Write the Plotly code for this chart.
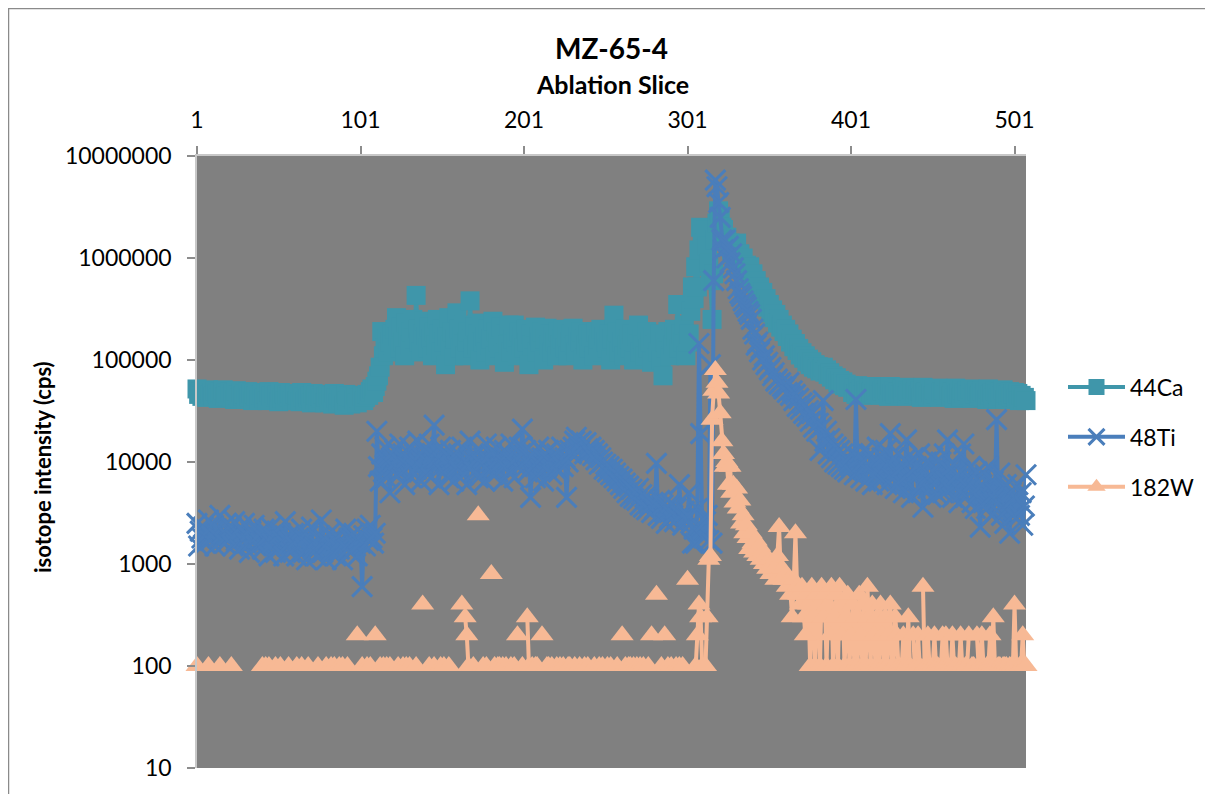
import plotly.graph_objects as go

# ---------------- data ----------------
slice_ticks = [1, 101, 201, 301, 401, 501]
y_ticks = [10, 100, 1000, 10000, 100000, 1000000, 10000000]
y_tick_labels = ["10", "100", "1000", "10000", "100000", "1000000", "10000000"]

# 44Ca intensity, in thousands of cps (slices 1..508)
ca44_kcps = [
    52,46,49,44,50,47,43,51,45,48,44,50,46,42,49,45,51,43,47,44,
    49,43,47,41,50,45,42,48,44,46,41,49,43,47,40,46,44,48,41,45,
    47,42,46,40,49,44,41,47,43,45,39,48,42,46,40,45,43,47,40,44,
    46,40,45,39,48,43,40,46,42,44,38,47,41,45,39,44,42,46,38,43,
    45,39,44,37,47,42,38,45,41,43,36,46,40,44,37,43,41,45,38,42,
    41,44,40,43,46,45,49,52,48,55,62,70,85,190,110,130,160,120,150,180,
    140,200,260,170,130,210,150,110,230,170,140,190,250,160,430,200,150,120,180,240,
    170,130,210,160,110,190,140,250,180,120,200,150,90,170,260,140,190,110,160,290,
    200,130,170,220,110,150,190,380,160,130,210,140,180,100,230,150,170,120,200,140,
    160,240,110,190,150,130,210,170,95,180,140,220,120,160,220,150,110,190,140,170,
    130,200,150,90,180,140,160,210,120,170,150,190,100,160,205,140,180,120,170,150,
    110,190,140,160,200,130,170,110,150,180,205,140,120,170,150,190,100,160,140,180,
    130,170,150,110,190,140,160,200,120,170,150,130,180,100,160,275,140,190,120,170,
    150,110,200,140,160,130,180,100,150,170,220,120,160,140,110,190,130,150,95,170,
    140,160,120,180,100,70,150,130,190,110,160,140,200,170,350,130,180,150,220,110,
    150,180,300,520,400,820,520,1200,2000,1700,1400,1900,1300,900,600,250,700,1500,2200,2900,
    2500,2000,1900,1500,1600,1300,1400,1200,1300,1100,1400,1000,1100,900,1000,800,850,700,820,650,
    700,560,600,480,520,430,460,390,400,330,350,290,310,260,280,230,250,210,220,190,
    200,170,180,150,160,135,145,124,130,112,118,104,110,96,102,90,96,85,90,82,
    86,78,82,85,76,80,72,75,68,70,64,67,60,63,58,61,56,58,54,56,
    55,48,53,46,56,49,52,45,54,50,47,53,49,55,46,51,48,54,45,50,
    53,47,51,44,55,48,50,46,53,49,45,52,47,54,44,50,48,52,46,49,
    52,45,50,43,54,47,49,44,52,48,44,51,46,53,43,49,47,51,45,48,
    51,44,49,42,53,46,48,43,51,47,43,50,45,52,42,48,46,50,44,47,
    50,43,48,41,52,45,47,42,50,46,42,49,44,51,41,47,45,49,43,46,
    48,42,47,40,45,41,43,40,
]

# 48Ti intensity, cps
ti48_cps = [
    2500,1500,2100,1800,2300,1600,2000,2700,1700,1900,2400,1500,2200,1800,3000,1700,2000,1600,2500,1900,
    1800,2300,1500,2600,1700,2000,1400,2200,1800,2500,1600,1900,1300,2100,1700,2400,1500,1800,2000,1600,
    1400,2200,1700,1900,1200,2300,1600,1800,1300,2100,1500,2000,1700,1200,2600,1500,1900,1300,1700,2000,
    1500,1200,1800,1600,2200,1300,1700,1100,1900,1500,2300,1400,1600,1200,1800,1500,2700,1300,1700,1100,
    1600,2000,1300,1800,1500,1200,1900,1400,1700,1100,1600,2200,1400,1800,1300,1700,2000,1500,1200,1800,
    1600,600,1900,1500,2200,1700,2400,1800,1600,2000,20000,9000,6500,12000,8000,14000,7000,10000,5000,11000,
    9000,13000,7500,10500,15000,8000,12000,6000,11000,9000,14000,7000,10000,12000,8500,16000,9500,6500,11000,13000,
    8000,10000,15000,7000,12000,23000,9000,11000,6000,14000,10000,8000,12000,9500,7000,13000,10500,6500,11000,9000,
    12000,8000,14000,7500,10000,6000,11000,16000,9000,12000,8000,10500,7000,13000,9500,11000,6500,15000,8500,10000,
    12000,7500,9000,14000,8000,11000,10000,6500,13000,9500,12000,8000,15000,10000,7000,11000,9000,14000,12000,21000,
    10000,13000,8000,11000,4500,9000,12000,7000,10000,14000,8500,11000,6500,12000,9000,13000,10000,7500,11500,9000,
    12000,8000,10500,14000,9000,11000,4500,10000,13000,12000,14000,16000,17500,15000,13000,16000,14500,12000,15500,13500,
    12500,14000,11500,13000,10500,12000,9500,11000,10000,8500,9500,8000,9000,7500,8500,7000,7800,6500,7200,6000,
    6800,5500,6200,5000,5800,4600,5400,4400,5000,4200,5500,3800,4800,3600,4500,3400,4200,3800,3200,4000,
    3500,9700,3000,4200,2800,3800,3200,2500,3600,2800,4000,3000,2600,3500,2800,6000,3000,2400,3300,2700,
    3000,5000,2500,1600,2200,1600,3500,145000,19000,2200,1800,2600,3000,1700,90000,1600,600000,5800000,5000000,3500000,
    2500000,1500000,1200000,1500000,1000000,1300000,900000,1100000,800000,700000,600000,500000,450000,420000,380000,350000,330000,300000,280000,250000,
    200000,180000,140000,150000,120000,130000,100000,110000,90000,95000,80000,85000,70000,75000,62000,65000,58000,60000,55000,52000,
    55000,48000,60000,45000,50000,40000,46000,35000,42000,33000,38000,30000,36000,28000,32000,25000,30000,22000,27000,20000,
    24000,13000,22000,40000,16000,20000,12000,17000,11000,15000,10000,14000,9500,13000,9000,12000,8500,11000,8000,10000,
    9000,12000,7500,41000,8000,11000,7000,10000,13000,6500,9500,8000,12000,6000,10000,7500,14000,6500,9000,11000,
    7000,13000,6000,9500,19000,7000,11000,5500,8500,12000,6500,9000,5000,10500,16500,6000,8000,4500,11000,7000,
    9000,5000,12000,6000,3600,8000,10000,5500,7500,4500,11000,6000,8500,4800,7000,10000,5000,12000,6500,16500,
    5500,8000,4500,9500,6000,7500,4000,12000,5000,15000,4500,7000,5500,9000,4000,6500,3500,8000,5000,2300,
    6000,4000,7500,3500,9000,4500,3000,6500,5000,26000,4000,7800,3000,5500,2500,6000,3500,2000,5000,3000,
    4500,2800,6000,3000,5000,2400,3700,7500,
]

# 182W intensity, cps (0 = nothing counted; not drawable on a log axis)
w182_cps = [
    100,0,0,0,0,0,0,100,0,0,0,0,0,0,100,0,0,0,0,0,
    0,100,0,0,0,0,0,0,0,0,0,0,0,0,0,0,0,0,0,0,
    100,0,100,0,100,0,0,0,100,0,0,100,0,0,0,0,100,0,0,0,
    0,100,0,0,100,0,0,0,100,0,0,0,0,0,100,0,0,0,0,100,
    0,0,100,0,100,0,0,100,0,100,0,0,100,0,0,0,0,0,200,0,
    0,100,0,0,100,0,100,0,0,200,0,0,100,0,100,0,100,0,100,0,
    0,0,0,100,0,0,100,0,100,0,100,0,0,0,100,0,0,0,400,0,
    0,0,100,0,0,100,0,0,0,100,0,100,0,0,100,0,0,0,0,0,
    0,0,400,0,300,200,100,0,0,100,0,0,3000,0,0,100,0,100,0,0,
    800,0,100,0,100,100,0,100,0,100,0,0,100,0,100,0,200,0,0,100,
    0,0,300,100,0,100,0,100,100,0,0,200,0,0,100,100,0,100,0,0,
    100,0,100,0,100,0,0,100,100,0,0,100,0,0,100,0,0,100,0,100,
    0,0,0,100,0,0,100,0,100,0,0,100,0,100,0,0,0,100,0,0,
    200,0,100,0,100,100,0,100,0,100,0,100,0,100,0,0,100,0,200,0,
    0,500,0,0,100,0,200,0,100,0,100,0,0,100,0,100,0,100,0,0,
    700,0,0,0,0,100,200,400,300,100,0,100,300,1100,1200,26000,50000,80000,60000,47000,
    30000,16000,12000,9000,10000,6000,9000,5000,6000,4000,5500,3500,4200,2500,3000,2000,2400,1800,1400,2000,
    1600,1300,1700,1200,1500,1100,1300,1000,1200,900,1100,800,1000,900,700,1200,2300,800,900,700,
    800,600,700,500,300,700,2000,600,500,400,600,300,200,500,400,100,600,300,100,500,
    400,100,600,300,500,100,400,200,600,100,300,500,100,600,200,400,100,300,500,100,
    200,400,100,300,100,500,200,100,400,100,600,300,100,400,200,100,300,100,400,200,
    100,300,100,200,400,100,100,300,200,100,0,100,200,100,100,300,100,0,200,100,
    100,200,100,0,600,100,100,200,100,0,100,200,100,100,0,100,200,100,200,100,
    0,100,200,100,100,0,100,200,100,0,100,100,200,0,100,100,0,200,100,100,
    200,100,0,100,100,200,100,300,100,0,100,100,0,100,100,100,0,100,100,100,
    400,100,0,100,100,200,100,100,
]

# ---------------- derived ----------------
ca44_cps = [v * 1000 for v in ca44_kcps]
w182_plot = [v if v > 0 else None for v in w182_cps]
x_ca = list(range(1, len(ca44_cps) + 1))
x_ti = list(range(1, len(ti48_cps) + 1))
x_w = list(range(1, len(w182_plot) + 1))
n_slices = max(len(x_ca), len(x_ti), len(x_w))

CA_COLOR = "#3F96AA"
TI_COLOR = "#4A7EBB"
W_COLOR = "#F7B995"
FONT = "Lato, Carlito, Calibri, 'Open Sans', sans-serif"

fig = go.Figure()
fig.add_trace(go.Scatter(
    x=x_ca, y=ca44_cps, name="44Ca", mode="lines+markers", legendgroup="a",
    line=dict(color=CA_COLOR, width=4),
    marker=dict(symbol="square", size=19, color=CA_COLOR),
    cliponaxis=False,
))
fig.add_trace(go.Scatter(
    x=x_ti, y=ti48_cps, name="48Ti", mode="lines+markers", legendgroup="b",
    line=dict(color=TI_COLOR, width=4),
    marker=dict(symbol="x-thin", size=20, color=TI_COLOR,
                line=dict(color=TI_COLOR, width=3)),
    cliponaxis=False,
))
fig.add_trace(go.Scatter(
    x=x_w, y=w182_plot, name="182W", mode="lines+markers", legendgroup="c",
    connectgaps=False,
    line=dict(color=W_COLOR, width=4),
    marker=dict(symbol="triangle-up", size=20, color=W_COLOR),
    cliponaxis=False,
))

# The page body adds an 8 px margin; work in window pixels and shift.
OFF = 8
FIG_W, FIG_H = 1213 - OFF, 794 - OFF
L, R, T, B = 197 - OFF, 1026 - OFF, 156 - OFF, 768 - OFF
def px(xp):
    return (xp - OFF - L) / (R - L)
def py(yp):
    return (B - (yp - OFF)) / (B - T)

fig.update_layout(
    width=FIG_W, height=FIG_H, autosize=False,
    margin=dict(l=L, r=FIG_W - R, t=T, b=FIG_H - B, pad=0),
    paper_bgcolor="white",
    plot_bgcolor="#808080",
    font=dict(family=FONT, size=23, color="black"),
    showlegend=True,
    legend=dict(
        x=px(1063), y=py(437), xanchor="left", yanchor="middle",
        font=dict(family=FONT, size=23, color="black"),
        bgcolor="rgba(0,0,0,0)", traceorder="grouped", tracegroupgap=17,
        itemwidth=57,
    ),
    xaxis=dict(
        type="linear", range=[1, n_slices], side="top",
        tickmode="array", tickvals=slice_ticks,
        ticktext=[str(v) for v in slice_ticks],
        ticks="outside", ticklen=8, tickwidth=1.5, tickcolor="#8C8C8C",
        showline=True, linecolor="#C8C8C8", linewidth=1.5,
        showgrid=False, zeroline=False,
        tickfont=dict(family=FONT, size=23, color="black"),
        ticklabelstandoff=9,
    ),
    yaxis=dict(
        type="log", range=[1, 7],
        tickmode="array", tickvals=y_ticks, ticktext=y_tick_labels,
        ticks="outside", ticklen=8, tickwidth=1.5, tickcolor="#8C8C8C",
        showline=True, linecolor="#C8C8C8", linewidth=1.5,
        showgrid=False, zeroline=False,
        tickfont=dict(family=FONT, size=23, color="black"),
        ticklabelstandoff=11,
    ),
    annotations=[
        dict(text="<b>MZ-65-4</b>", xref="paper", yref="paper",
             x=px(611), y=py(48), xanchor="center", yanchor="middle",
             showarrow=False, font=dict(family=FONT, size=28, color="black")),
        dict(text="<b>Ablation Slice</b>", xref="paper", yref="paper",
             x=px(612), y=py(84), xanchor="center", yanchor="middle",
             showarrow=False, font=dict(family=FONT, size=25, color="black")),
        dict(text="<b>isotope intensity (cps)</b>", xref="paper", yref="paper",
             x=px(42), y=py(467), xanchor="center", yanchor="middle",
             textangle=-90, showarrow=False,
             font=dict(family=FONT, size=22, color="black")),
    ],
    shapes=[
        dict(type="line", xref="paper", yref="paper",
             x0=px(8), x1=px(1213), y0=py(8.5), y1=py(8.5),
             line=dict(color="#8A8A8A", width=1.5)),
        dict(type="line", xref="paper", yref="paper",
             x0=px(8.5), x1=px(8.5), y0=py(8), y1=py(794),
             line=dict(color="#8A8A8A", width=1.5)),
    ],
)

fig.write_html("out.html")
